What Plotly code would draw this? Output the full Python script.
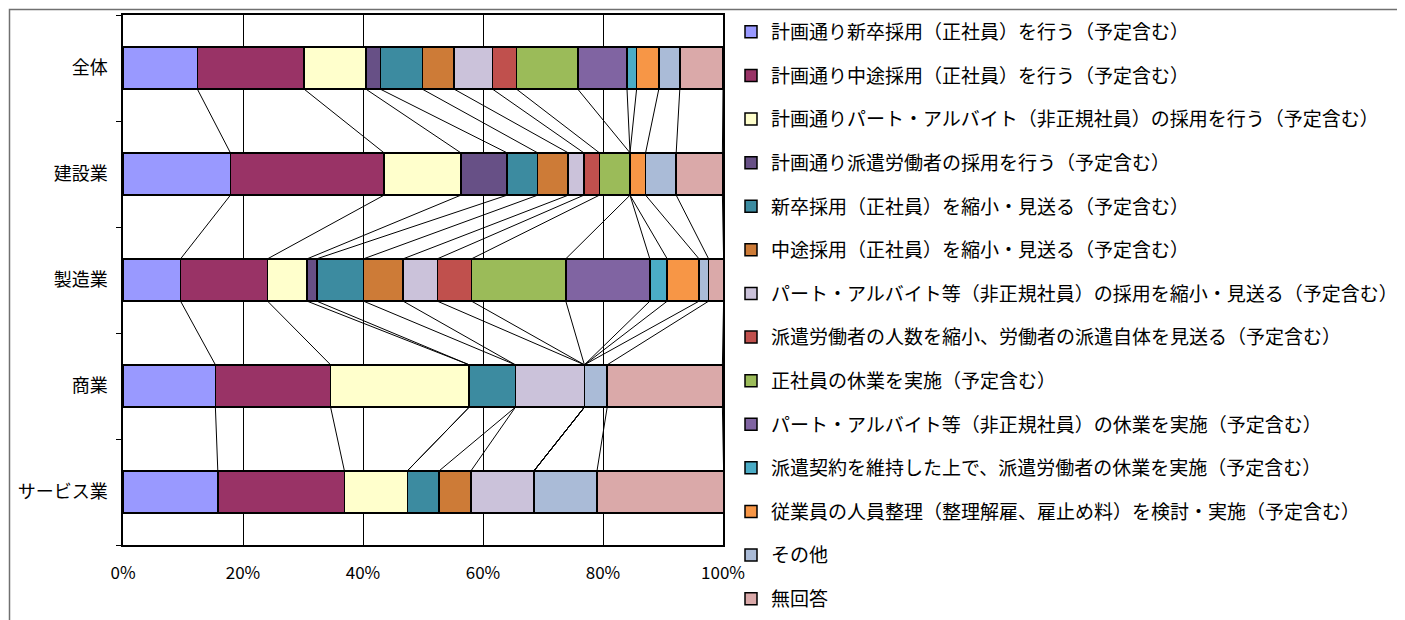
import plotly.graph_objects as go

categories = ["全体", "建設業", "製造業", "商業", "サービス業"]

series_names = [
    "計画通り新卒採用（正社員）を行う（予定含む）",
    "計画通り中途採用（正社員）を行う（予定含む）",
    "計画通りパート・アルバイト（非正規社員）の採用を行う（予定含む）",
    "計画通り派遣労働者の採用を行う（予定含む）",
    "新卒採用（正社員）を縮小・見送る（予定含む）",
    "中途採用（正社員）を縮小・見送る（予定含む）",
    "パート・アルバイト等（非正規社員）の採用を縮小・見送る（予定含む）",
    "派遣労働者の人数を縮小、労働者の派遣自体を見送る（予定含む）",
    "正社員の休業を実施（予定含む）",
    "パート・アルバイト等（非正規社員）の休業を実施（予定含む）",
    "派遣契約を維持した上で、派遣労働者の休業を実施（予定含む）",
    "従業員の人員整理（整理解雇、雇止め料）を検討・実施（予定含む）",
    "その他",
    "無回答",
]

# values (%) per series, in category order: 全体, 建設業, 製造業, 商業, サービス業
s01 = [12.4, 17.9, 9.6, 15.4, 15.8]
s02 = [17.8, 25.6, 14.5, 19.2, 21.1]
s03 = [10.3, 12.8, 6.6, 23.1, 10.5]
s04 = [2.4, 7.7, 1.6, 0.0, 0.0]
s05 = [7.0, 5.1, 7.8, 7.7, 5.3]
s06 = [5.3, 5.1, 6.6, 0.0, 5.3]
s07 = [6.4, 2.6, 5.7, 11.5, 10.5]
s08 = [4.0, 2.6, 5.7, 0.0, 0.0]
s09 = [10.2, 5.1, 15.7, 0.0, 0.0]
s10 = [8.2, 0.0, 14.0, 0.0, 0.0]
s11 = [1.6, 0.0, 2.9, 0.0, 0.0]
s12 = [3.7, 2.6, 5.3, 0.0, 0.0]
s13 = [3.5, 5.1, 1.6, 3.8, 10.5]
s14 = [7.2, 7.7, 2.5, 19.2, 21.1]

series_values = [s01, s02, s03, s04, s05, s06, s07, s08, s09, s10, s11, s12, s13, s14]

colors = [
    "#9999FF", "#993366", "#FFFFCC", "#675086", "#3C8BA0", "#CD7B37", "#CBC2DA",
    "#C0504D", "#9BBB59", "#8064A2", "#4BACC6", "#F79646", "#AABBD7", "#DAA9A9",
]

tick_vals_x = [0, 20, 40, 60, 80, 100]
tick_text_x = ["0%", "20%", "40%", "60%", "80%", "100%"]

BAR_W = 0.40
ypos = list(range(len(categories)))

fig = go.Figure()

for i, (name, vals) in enumerate(zip(series_names, series_values)):
    fig.add_trace(go.Bar(
        x=vals, y=ypos, orientation="h", name=name,
        width=BAR_W,
        marker=dict(color=colors[i], line=dict(color="black", width=1.5)),
        legendgroup=f"g{i}",
    ))

# series lines (connectors between consecutive bars)
n_cat = len(categories)
cum = [[0.0] * n_cat for _ in series_values]
for c in range(n_cat):
    run = 0.0
    for k, vals in enumerate(series_values):
        run += vals[c]
        cum[k][c] = run

lx, ly = [], []
for k in range(len(series_values)):
    for c in range(n_cat - 1):
        lx += [cum[k][c], cum[k][c + 1], None]
        ly += [ypos[c] + BAR_W / 2, ypos[c + 1] - BAR_W / 2, None]

fig.add_trace(go.Scatter(
    x=lx, y=ly, mode="lines", line=dict(color="black", width=1),
    showlegend=False, hoverinfo="skip", legendgroup="lines",
))

# outer chart frame
fig.add_shape(type="rect", xref="paper", yref="paper",
              x0=(1.5 - 115) / 600, x1=(1390 - 115) / 600,
              y0=-0.2, y1=1 + 5.5 / 530,
              line=dict(color="#707070", width=1.5), fillcolor="rgba(0,0,0,0)", layer="below")

fig.update_layout(
    width=1397, height=612,
    margin=dict(l=115, r=682, t=7, b=75, autoexpand=False),
    barmode="stack",
    plot_bgcolor="white",
    paper_bgcolor="white",
    font=dict(family="Noto Sans CJK JP", color="black", size=17),
    legend=dict(
        x=(731 - 123) / 600, xanchor="left",
        y=1 + 2 / 530, yanchor="top",
        traceorder="grouped",
        tracegroupgap=15.9,
        font=dict(size=19, family="Noto Sans CJK JP"),
        itemwidth=30,
        bgcolor="rgba(0,0,0,0)",
        maxheight=900,
    ),
    showlegend=True,
)

fig.update_xaxes(
    range=[0, 100], tickvals=tick_vals_x, ticktext=tick_text_x,
    showgrid=True, gridcolor="black", gridwidth=1,
    showline=True, linecolor="black", linewidth=1.5, mirror=True,
    ticks="", zeroline=False, automargin=False,
    tickfont=dict(family="Noto Sans CJK JP", size=17),
    ticklabelstandoff=12,
)

fig.update_yaxes(
    range=[4.5, -0.5], tickvals=ypos, ticktext=categories,
    showgrid=False, zeroline=False, automargin=False,
    showline=True, linecolor="black", linewidth=1.5, mirror=True,
    ticks="", ticklabelstandoff=10,
    minor=dict(tickvals=[-0.5, 0.5, 1.5, 2.5, 3.5, 4.5], ticks="outside", ticklen=5,
               tickcolor="black", tickwidth=1, showgrid=False),
    tickfont=dict(size=18, family="Noto Sans CJK JP"),
)

fig.write_html("out.html")
